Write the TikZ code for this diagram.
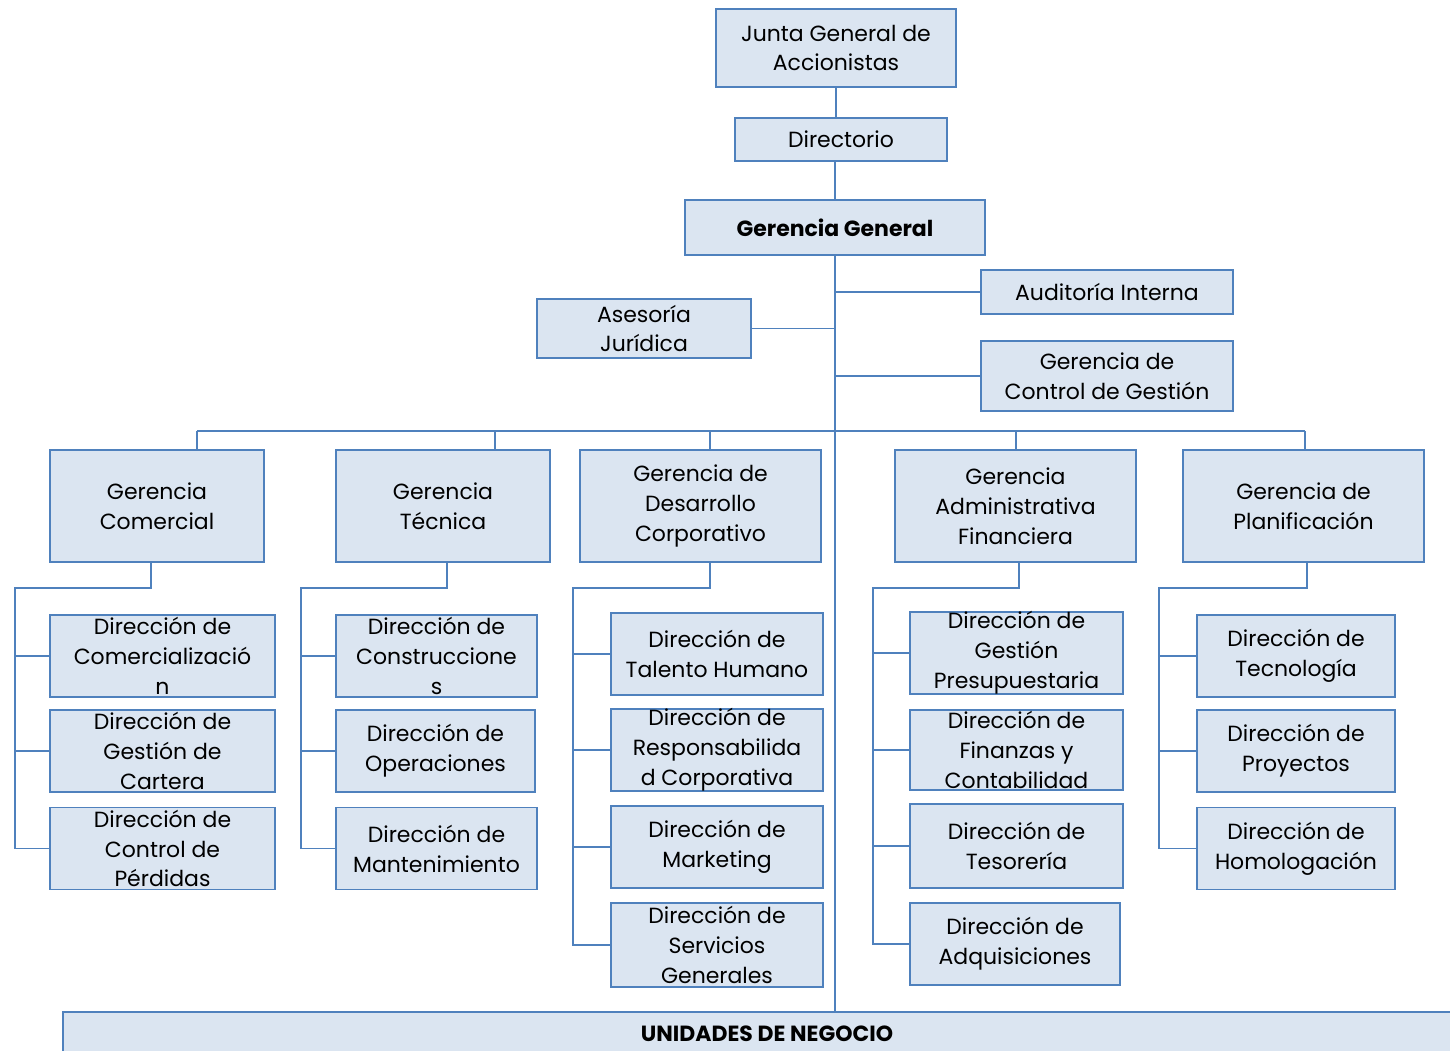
\documentclass[tikz,border=0pt]{standalone}
\usepackage{fontspec}
\setmainfont{Poppins}
\usepackage{xcolor}
\usepackage{tikz}
\usetikzlibrary{calc}
\usetikzlibrary{positioning}

\definecolor{boxfill}{RGB}{219,229,241}
\definecolor{boxline}{RGB}{79,129,189}

\begin{document}
\begin{tikzpicture}
[
	unit/.style	= {rectangle, draw = boxline, fill = boxfill, line width = 1.1pt, align = center, inner sep = 0cm, font = \fontsize{12.5}{17}\selectfont},
	ger/.style	= {unit, minimum height = 2.24cm},
	dir/.style	= {unit, minimum height = 1.64cm},
	bold/.style	= {font = \fontsize{12.5}{17}\selectfont\bfseries},
	link/.style	= {draw = boxline, line width = 1.1pt},
]

	\useasboundingbox (0,0) rectangle (29,-21.02);
	\clip (0,0) rectangle (29,-21.02);

	\node (junta) [unit, minimum width = 4.8cm, minimum height = 1.56cm] at (16.72,-0.96) {Junta General de\\Accionistas};
	\node (dirtor) [unit, minimum width = 4.24cm, minimum height = 0.86cm] at (16.82,-2.79) {Directorio};
	\node (gg) [unit, bold, minimum width = 6cm, minimum height = 1.1cm] at (16.70,-4.55) {Gerencia General};
	%
	\node (audit) [unit, minimum width = 5.04cm, minimum height = 0.88cm] at (22.14,-5.84) {Auditoría Interna};
	\node (aseso) [unit, minimum width = 4.28cm, minimum height = 1.18cm] at (12.88,-6.57) {Asesoría\\Jurídica};
	\node (ctrlg) [unit, minimum width = 5.04cm, minimum height = 1.40cm] at (22.14,-7.52) {Gerencia de\\Control de Gestión};
	%
	\node (gcom) [ger, minimum width = 4.28cm] at (3.14,-10.12) {Gerencia\\Comercial};
	\node (gtec) [ger, minimum width = 4.28cm] at (8.86,-10.12) {Gerencia\\Técnica};
	\node (gdes) [ger, minimum width = 4.82cm] at (14.01,-10.12) {Gerencia de\\Desarrollo\\Corporativo};
	\node (gadm) [ger, minimum width = 4.82cm] at (20.31,-10.12) {Gerencia\\Administrativa\\Financiera};
	\node (gpla) [ger, minimum width = 4.82cm] at (26.07,-10.12) {Gerencia de\\Planificación};

	% comercial
	\node (dcom) [dir, minimum width = 4.5cm] at (3.25,-13.12) {Dirección de\\Comercializació\\n};
	\node (dcar) [dir, minimum width = 4.5cm] at (3.25,-15.02) {Dirección de\\Gestión de\\Cartera};
	\node (dper) [dir, minimum width = 4.5cm] at (3.25,-16.97) {Dirección de\\Control de\\Pérdidas};
	% tecnica
	\node (dcon) [dir, minimum width = 4.02cm] at (8.73,-13.12) {Dirección de\\Construccione\\s};
	\node (dope) [dir, minimum width = 3.98cm] at (8.71,-15.02) {Dirección de\\Operaciones};
	\node (dman) [dir, minimum width = 4.02cm] at (8.73,-16.97) {Dirección de\\Mantenimiento};
	% desarrollo
	\node (dtal) [dir, minimum width = 4.24cm] at (14.34,-13.08) {Dirección de\\Talento Humano};
	\node (dres) [dir, minimum width = 4.24cm, minimum height = 1.6cm] at (14.34,-15.00) {Dirección de\\Responsabilida\\d Corporativa};
	\node (dmar) [dir, minimum width = 4.24cm] at (14.34,-16.94) {Dirección de\\Marketing};
	\node (dser) [dir, minimum width = 4.24cm, minimum height = 1.68cm] at (14.34,-18.90) {Dirección de\\Servicios\\Generales};
	% administrativa
	\node (dpre) [dir, minimum width = 4.26cm] at (20.33,-13.06) {Dirección de\\Gestión\\Presupuestaria};
	\node (dfin) [dir, minimum width = 4.26cm, minimum height = 1.6cm] at (20.33,-15.00) {Dirección de\\Finanzas y\\Contabilidad};
	\node (dtes) [dir, minimum width = 4.26cm, minimum height = 1.68cm] at (20.33,-16.92) {Dirección de\\Tesorería};
	\node (dadq) [dir, minimum width = 4.2cm] at (20.30,-18.88) {Dirección de\\Adquisiciones};
	% planificacion
	\node (dtec) [dir, minimum width = 3.96cm] at (25.92,-13.12) {Dirección de\\Tecnología};
	\node (dpro) [dir, minimum width = 3.96cm] at (25.92,-15.02) {Dirección de\\Proyectos};
	\node (dhom) [dir, minimum width = 3.96cm] at (25.92,-16.97) {Dirección de\\Homologación};

	\node (unid) [unit, bold, minimum width = 28.16cm, minimum height = 0.88cm] at (15.34,-20.68) {UNIDADES DE NEGOCIO};

	% bus and elbows
	\coordinate (b1) at (3.94,-8.62);
	\coordinate (b2) at (9.90,-8.62);
	\coordinate (b3) at (14.20,-8.62);
	\coordinate (b4) at (20.32,-8.62);
	\coordinate (b5) at (26.10,-8.62);
	%
	\coordinate (e1) at (3.02,-11.76);
	\coordinate (e2) at (8.94,-11.76);
	\coordinate (e3) at (14.20,-11.76);
	\coordinate (e4) at (20.38,-11.76);
	\coordinate (e5) at (26.14,-11.76);
	%
	\coordinate (t1) at (0.30,-11.76);
	\coordinate (t2) at (6.02,-11.76);
	\coordinate (t3) at (11.46,-11.76);
	\coordinate (t4) at (17.46,-11.76);
	\coordinate (t5) at (23.18,-11.76);

	\draw [link] (junta.south) -- (junta.south |- dirtor.north);
	\draw [link] (dirtor.south -| gg.north) -- (gg.north);
	\draw [link] (gg.south) -- (gg.south |- unid.north);

	\draw [link] (audit.west -| gg.south) -- (audit.west);
	\draw [link] (aseso.east) -- (aseso.east -| gg.south);
	\draw [link] (ctrlg.west -| gg.south) -- (ctrlg.west);

	\draw [link] (b1) -- (b5);
	\draw [link] (b1) -- (b1 |- gcom.north);
	\draw [link] (b2) -- (b2 |- gtec.north);
	\draw [link] (b3) -- (b3 |- gdes.north);
	\draw [link] (b4) -- (b4 |- gadm.north);
	\draw [link] (b5) -- (b5 |- gpla.north);

	\draw [link] (gcom.south -| e1) -- (e1) -- (t1) -- (t1 |- dper.west) -- (dper.west);
	\draw [link] (dcom.west) -- (dcom.west -| t1);
	\draw [link] (dcar.west) -- (dcar.west -| t1);

	\draw [link] (gtec.south -| e2) -- (e2) -- (t2) -- (t2 |- dman.west) -- (dman.west);
	\draw [link] (dcon.west) -- (dcon.west -| t2);
	\draw [link] (dope.west) -- (dope.west -| t2);

	\draw [link] (gdes.south -| e3) -- (e3) -- (t3) -- (t3 |- dser.west) -- (dser.west);
	\draw [link] (dtal.west) -- (dtal.west -| t3);
	\draw [link] (dres.west) -- (dres.west -| t3);
	\draw [link] (dmar.west) -- (dmar.west -| t3);

	\draw [link] (gadm.south -| e4) -- (e4) -- (t4) -- (t4 |- dadq.west) -- (dadq.west);
	\draw [link] (dpre.west) -- (dpre.west -| t4);
	\draw [link] (dfin.west) -- (dfin.west -| t4);
	\draw [link] (dtes.west) -- (dtes.west -| t4);

	\draw [link] (gpla.south -| e5) -- (e5) -- (t5) -- (t5 |- dhom.west) -- (dhom.west);
	\draw [link] (dtec.west) -- (dtec.west -| t5);
	\draw [link] (dpro.west) -- (dpro.west -| t5);

\end{tikzpicture}
\end{document}
